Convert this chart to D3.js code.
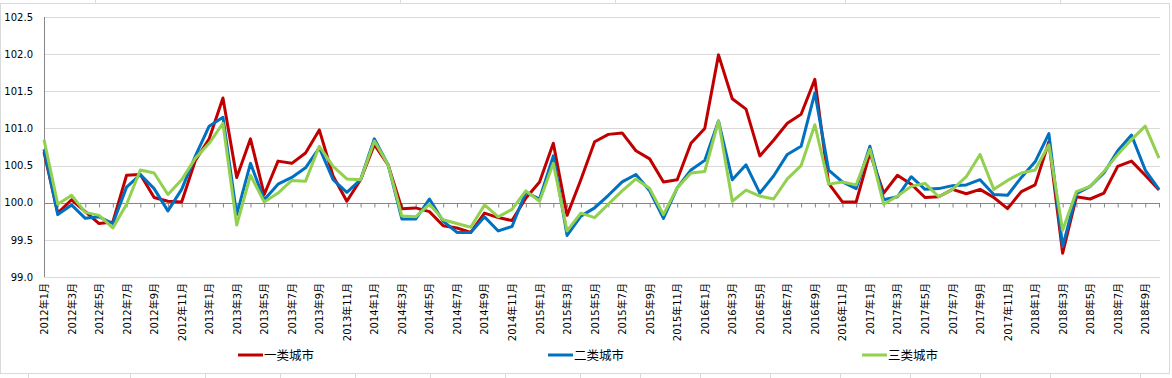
<!DOCTYPE html>
<html><head><meta charset="utf-8">
<script src="https://cdn.jsdelivr.net/npm/d3@7"></script>
<style>body{margin:0;background:#fff}svg{display:block}</style>
</head><body>
<svg id="c" width="1172" height="378"></svg>
<script>
const categories = [
"2012年1月","2012年2月","2012年3月","2012年4月","2012年5月","2012年6月","2012年7月","2012年8月","2012年9月","2012年10月","2012年11月","2012年12月",
"2013年1月","2013年2月","2013年3月","2013年4月","2013年5月","2013年6月","2013年7月","2013年8月","2013年9月","2013年10月","2013年11月","2013年12月",
"2014年1月","2014年2月","2014年3月","2014年4月","2014年5月","2014年6月","2014年7月","2014年8月","2014年9月","2014年10月","2014年11月","2014年12月",
"2015年1月","2015年2月","2015年3月","2015年4月","2015年5月","2015年6月","2015年7月","2015年8月","2015年9月","2015年10月","2015年11月","2015年12月",
"2016年1月","2016年2月","2016年3月","2016年4月","2016年5月","2016年6月","2016年7月","2016年8月","2016年9月","2016年10月","2016年11月","2016年12月",
"2017年1月","2017年2月","2017年3月","2017年4月","2017年5月","2017年6月","2017年7月","2017年8月","2017年9月","2017年10月","2017年11月","2017年12月",
"2018年1月","2018年2月","2018年3月","2018年4月","2018年5月","2018年6月","2018年7月","2018年8月","2018年9月","2018年10月"];

const seriesNames = ["一类城市","二类城市","三类城市"];

const tier1 = [100.68,99.86,100.04,99.88,99.72,99.74,100.37,100.38,100.07,100.02,100.01,100.57,
100.86,101.41,100.34,100.86,100.11,100.56,100.53,100.67,100.98,100.36,100.02,100.31,
100.78,100.51,99.92,99.93,99.88,99.69,99.66,99.60,99.86,99.80,99.76,100.06,
100.28,100.80,99.83,100.31,100.82,100.92,100.94,100.70,100.59,100.28,100.31,100.80,
101.00,101.99,101.40,101.26,100.63,100.84,101.07,101.19,101.66,100.26,100.01,100.01,
100.67,100.13,100.37,100.25,100.07,100.08,100.18,100.12,100.18,100.07,99.92,100.15,
100.24,100.82,99.32,100.08,100.05,100.13,100.49,100.56,100.37,100.17];

const tier2 = [100.72,99.84,99.97,99.79,99.81,99.72,100.21,100.38,100.19,99.89,100.18,100.63,
101.03,101.15,99.84,100.53,100.04,100.25,100.34,100.47,100.74,100.31,100.14,100.31,
100.86,100.51,99.78,99.78,100.05,99.75,99.60,99.60,99.81,99.62,99.68,100.14,
100.05,100.63,99.56,99.82,99.93,100.10,100.28,100.38,100.16,99.79,100.20,100.44,
100.57,101.10,100.31,100.51,100.13,100.36,100.65,100.76,101.48,100.44,100.28,100.19,
100.76,100.04,100.08,100.35,100.18,100.19,100.23,100.24,100.31,100.11,100.10,100.34,
100.55,100.93,99.41,100.12,100.22,100.40,100.70,100.91,100.44,100.18];

const tier3 = [100.85,99.98,100.10,99.87,99.83,99.66,99.98,100.44,100.40,100.11,100.31,100.60,
100.80,101.07,99.70,100.37,100.01,100.13,100.30,100.29,100.76,100.49,100.32,100.31,
100.83,100.51,99.82,99.81,99.98,99.77,99.72,99.67,99.97,99.81,99.91,100.16,
100.02,100.53,99.62,99.86,99.80,99.98,100.16,100.32,100.19,99.84,100.20,100.40,
100.42,101.10,100.02,100.17,100.09,100.05,100.32,100.50,101.05,100.25,100.28,100.24,
100.72,99.98,100.09,100.22,100.26,100.08,100.18,100.35,100.65,100.18,100.30,100.40,
100.44,100.78,99.63,100.15,100.22,100.42,100.65,100.85,101.03,100.60];

const yTicks = [99.0,99.5,100.0,100.5,101.0,101.5,102.0,102.5];
const xTickLabels = categories.filter((d,i)=>i%2===0);

const colors = ["#C00000","#0070C0","#92D050"];
const allSeries = [tier1,tier2,tier3];

const svg = d3.select("#c");
const font = "'DejaVu Sans','Noto Sans CJK SC',sans-serif";

// sheet / chart frame decorations
const frame = svg.append("g").attr("stroke","#d9d9d9").attr("fill","none");
frame.append("rect").attr("x",0.5).attr("y",3.5).attr("width",1169).attr("height",370);
[95,400,615,845,1060].forEach(x=>frame.append("line").attr("x1",x+0.5).attr("x2",x+0.5).attr("y1",0).attr("y2",3));
[28,130,205,280,355,430,505,580,640,700,770,840,910,980,1050,1140].forEach(x=>frame.append("line").attr("x1",x+0.5).attr("x2",x+0.5).attr("y1",374).attr("y2",378));

const x = d3.scalePoint().domain(categories).range([44,1159]);
const y = d3.scaleLinear().domain([99,102.5]).range([277,17]);

// gridlines
svg.append("g").selectAll("line").data(yTicks.filter(v=>v!==100)).join("line")
  .attr("x1",44).attr("x2",1160)
  .attr("y1",d=>Math.round(y(d))+0.5).attr("y2",d=>Math.round(y(d))+0.5)
  .attr("stroke","#d9d9d9").attr("stroke-width",1);

// y axis
const yAxis = svg.append("g").attr("transform","translate(44,0)")
  .call(d3.axisLeft(y).tickValues(yTicks).tickFormat(d3.format(".1f")).tickSize(0).tickPadding(11));
yAxis.select(".domain").remove();
yAxis.selectAll("text").attr("font-family",font).attr("font-size",10).attr("fill","#000");
svg.append("line").attr("x1",44.5).attr("x2",44.5).attr("y1",y(102.5)).attr("y2",y(99)).attr("stroke","#868686");

// category axis at 100 with tick marks
const y100 = Math.round(y(100))+0.5;
const xAxisTicks = svg.append("g").attr("transform",`translate(0,${y100})`)
  .call(d3.axisBottom(x).tickSize(4).tickFormat(""));
xAxisTicks.select(".domain").remove();
xAxisTicks.selectAll("line").attr("stroke","#868686");
svg.append("line").attr("x1",44).attr("x2",1160).attr("y1",y100).attr("y2",y100).attr("stroke","#868686");

// category labels at bottom
const xLab = svg.append("g").attr("transform","translate(0,277)")
  .call(d3.axisBottom(x).tickValues(xTickLabels).tickSize(0));
xLab.select(".domain").remove();
xLab.selectAll("text")
  .attr("font-family",font).attr("font-size",10).attr("fill","#000")
  .attr("transform","rotate(-90)").attr("text-anchor","end")
  .attr("x",-6).attr("y",0).attr("dy","0.35em");

// lines
const line = d3.line().x((d,i)=>x(categories[i])).y(d=>y(d));
allSeries.forEach((s,k)=>{
  svg.append("path").datum(s).attr("d",line)
    .attr("fill","none").attr("stroke",colors[k]).attr("stroke-width",3)
    .attr("stroke-linejoin","round");
});

// legend
const legendX = [238,548,862];
const lg = svg.append("g");
seriesNames.forEach((n,k)=>{
  lg.append("line").attr("x1",legendX[k]).attr("x2",legendX[k]+25).attr("y1",355).attr("y2",355)
    .attr("stroke",colors[k]).attr("stroke-width",3);
  lg.append("text").attr("x",legendX[k]+26).attr("y",360).text(n)
    .attr("font-family","'Noto Sans CJK SC',sans-serif").attr("font-size",12.5).attr("fill","#000");
});
</script>
</body></html>
